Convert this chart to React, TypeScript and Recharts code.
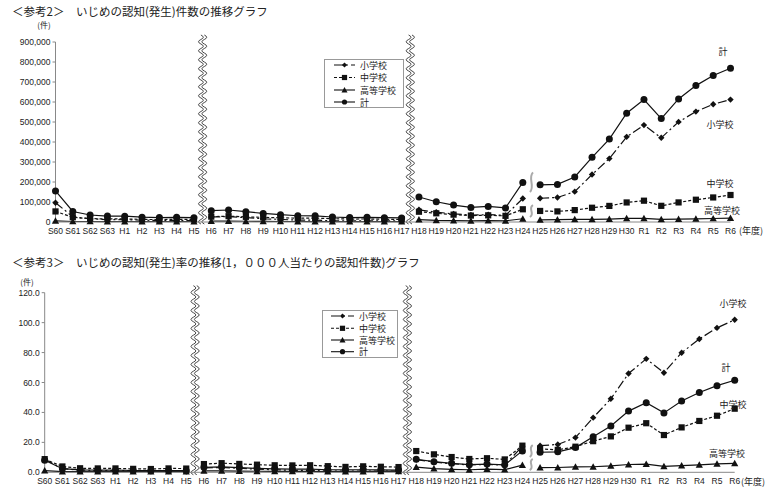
import React from 'react'
import { LineChart, Line, XAxis, YAxis, ReferenceArea } from 'recharts'

// 年度
const years = [
  'S60', 'S61', 'S62', 'S63',
  'H1', 'H2', 'H3', 'H4', 'H5', 'H6', 'H7', 'H8', 'H9', 'H10',
  'H11', 'H12', 'H13', 'H14', 'H15', 'H16', 'H17', 'H18', 'H19', 'H20',
  'H21', 'H22', 'H23', 'H24', 'H25', 'H26', 'H27', 'H28', 'H29', 'H30',
  'R1', 'R2', 'R3', 'R4', 'R5', 'R6',
]
// lines are broken where the survey definition changed
const segmentStarts = ['S60', 'H6', 'H18', 'H25']

// 認知（発生）件数
const countElem = [
  96457, 26306, 15727, 12122, 11350, 9035, 7718, 7300, 6390,
  25295, 26614, 21733, 16294, 12858, 9462, 9114, 6206, 5659, 6051, 5551, 5087,
  60897, 48896, 40807, 34766, 36909, 33124, 117384,
  118748, 122734, 151692, 237256, 317121, 425844, 484545, 420897, 500562, 551944, 588930, 612000,
]
const countJhs = [
  52891, 23690, 16796, 15452, 15215, 13121, 11922, 13632, 12817,
  26828, 29069, 25862, 23234, 20801, 19383, 19371, 16635, 14562, 15159, 13915, 12794,
  51310, 43505, 36795, 32111, 33323, 30749, 63634,
  55248, 52971, 59502, 71309, 80424, 97704, 106524, 80877, 97937, 111404, 122703, 135000,
]
const countHs = [
  5718, 2614, 2544, 2212, 2523, 2152, 2422, 2326, 2391,
  4253, 4184, 3771, 3103, 2576, 2391, 2327, 2119, 1906, 2070, 2121, 2191,
  12307, 8355, 6737, 5642, 7018, 6020, 16274,
  11039, 11404, 12664, 12874, 14789, 17709, 18352, 13126, 14157, 15568, 17611, 19500,
]
const countTotal = [
  155066, 52610, 35067, 29786, 29088, 24308, 22062, 23258, 21598,
  56601, 60096, 51544, 42790, 36396, 31359, 30918, 25037, 22205, 23351, 21671, 20143,
  124898, 101097, 84648, 72778, 77630, 70231, 198109,
  185803, 188072, 225132, 323143, 414378, 543933, 612496, 517163, 615351, 681948, 732568, 769022,
]

// 1,000人当たりの認知件数
const rateElem = [
  8.7, 2.4, 1.5, 1.2, 1.2, 1.0, 0.8, 0.8, 0.7,
  2.9, 3.2, 2.7, 2.1, 1.7, 1.3, 1.2, 0.9, 0.8, 0.8, 0.8, 0.7,
  8.5, 6.9, 5.7, 4.9, 5.3, 4.8, 17.4,
  17.8, 18.6, 23.2, 36.5, 49.1, 66.0, 75.8, 66.5, 79.9, 89.1, 96.5, 101.9,
]
const rateJhs = [
  8.8, 3.9, 2.7, 2.6, 2.6, 2.3, 2.2, 2.6, 2.5,
  5.5, 6.1, 5.6, 5.1, 4.7, 4.6, 4.7, 4.1, 3.6, 4.0, 3.7, 3.5,
  14.2, 12.0, 10.2, 8.9, 9.4, 8.6, 17.8,
  15.6, 15.0, 17.1, 20.8, 24.0, 29.8, 32.8, 24.9, 30.0, 34.3, 37.8, 42.5,
]
const rateHs = [
  1.1, 0.5, 0.5, 0.4, 0.5, 0.4, 0.4, 0.4, 0.5,
  0.9, 0.9, 0.8, 0.7, 0.6, 0.6, 0.6, 0.5, 0.5, 0.5, 0.6, 0.6,
  3.5, 2.5, 2.0, 1.7, 2.1, 1.8, 4.8,
  3.1, 3.2, 3.6, 3.7, 4.3, 5.2, 5.4, 4.0, 4.4, 4.9, 5.6, 6.0,
]
const rateTotal = [
  8.0, 2.4, 1.6, 1.4, 1.4, 1.2, 1.1, 1.2, 1.1,
  3.3, 3.6, 3.1, 2.6, 2.3, 2.1, 2.1, 1.7, 1.6, 1.7, 1.6, 1.5,
  8.7, 7.1, 6.0, 5.1, 5.5, 5.0, 14.3,
  13.4, 13.7, 16.5, 23.8, 30.9, 40.9, 46.5, 39.7, 47.7, 53.3, 57.9, 61.5,
]

const countTicks = [0, 100000, 200000, 300000, 400000, 500000, 600000, 700000, 800000, 900000]
const rateTicks = [0, 20, 40, 60, 80, 100, 120]

type Marker = 'diamond' | 'square' | 'triangle' | 'circle'
const seriesDefs: { key: string; name: string; dash?: string; marker: Marker }[] = [
  { key: 'elem', name: '小学校', dash: '9 3 2 3', marker: 'diamond' },
  { key: 'jhs', name: '中学校', dash: '3 2', marker: 'square' },
  { key: 'hs', name: '高等学校', marker: 'triangle' },
  { key: 'total', name: '計', marker: 'circle' },
]

const INK = '#111'
const JP = "'Noto Sans CJK JP', 'Noto Sans', sans-serif"
const NUM = "'Liberation Sans', Arial, sans-serif"

const segStartIdx = segmentStarts.map((s) => years.indexOf(s))
const segOf = (i: number) => segStartIdx.filter((s) => s <= i).length - 1

function buildRows(values: Record<string, number[]>) {
  return years.map((year, i) => {
    const row: Record<string, any> = { year }
    const seg = segOf(i)
    Object.keys(values).forEach((k) => {
      row[`${k}_${seg}`] = values[k][i]
    })
    return row
  })
}

const countRows = buildRows({ elem: countElem, jhs: countJhs, hs: countHs, total: countTotal })
const rateRows = buildRows({ elem: rateElem, jhs: rateJhs, hs: rateHs, total: rateTotal })

function markerShape(marker: Marker, cx: number, cy: number, s: number, key?: string) {
  switch (marker) {
    case 'diamond':
      return <path key={key} d={`M${cx},${cy - s} L${cx + s},${cy} L${cx},${cy + s} L${cx - s},${cy} Z`} fill={INK} />
    case 'square':
      return <rect key={key} x={cx - s} y={cy - s} width={s * 2} height={s * 2} fill={INK} />
    case 'triangle':
      return <path key={key} d={`M${cx},${cy - s} L${cx + s},${cy + s * 0.8} L${cx - s},${cy + s * 0.8} Z`} fill={INK} />
    default:
      return <circle key={key} cx={cx} cy={cy} r={s} fill={INK} />
  }
}

const markerSize: Record<Marker, number> = { diamond: 3.2, square: 3.1, triangle: 3.6, circle: 3.5 }

const makeDot = (marker: Marker) => (props: any) => {
  const { cx, cy, value, index, dataKey } = props
  if (cx == null || cy == null || value == null) return <g key={`e-${dataKey}-${index}`} />
  return markerShape(marker, cx, cy, markerSize[marker], `d-${dataKey}-${index}`)
}

function waveD(x: number, y0: number, y1: number, amp = 2.4, period = 9) {
  let d = `M${x},${y0}`
  let y = y0
  let k = 0
  while (y < y1) {
    const dir = k % 2 === 0 ? 1 : -1
    d += ` q${dir * amp * 2},${period / 4} 0,${period / 2}`
    y += period / 2
    k++
  }
  return d
}

const BreakShape = (props: any) => {
  const { x, y, width, height } = props
  const mx = x + width / 2
  const top = y - 7
  return (
    <g>
      <path d={waveD(mx - 1.7, top, y + height)} stroke="#333" fill="none" strokeWidth={0.9} />
      <path d={waveD(mx + 1.7, top, y + height)} stroke="#333" fill="none" strokeWidth={0.9} />
    </g>
  )
}

const SquiggleShape = (props: any) => {
  const { x, y, width, height } = props
  const mx = x + width / 2
  return (
    <path
      d={`M${mx + 1.5},${y} C${mx - 4},${y + height * 0.3} ${mx + 4},${y + height * 0.7} ${mx - 1.5},${y + height}`}
      stroke="#aaa"
      strokeWidth={2}
      fill="none"
    />
  )
}

function Legend({ left, top, width, height, rows, lineX }: any) {
  return (
    <div
      style={{
        position: 'absolute', left, top, width, height, border: '1px solid #999',
        background: '#fff', boxSizing: 'border-box',
      }}
    >
      <svg width={width} height={height} style={{ position: 'absolute', left: -1, top: -1 }}>
        {seriesDefs.map((s, i) => {
          const y = rows[i]
          const mid = (lineX[0] + lineX[1]) / 2
          return (
            <g key={s.key}>
              <line x1={lineX[0]} x2={lineX[1]} y1={y} y2={y} stroke={INK} strokeWidth={1.1} strokeDasharray={s.dash} />
              {markerShape(s.marker, mid, y, s.marker === 'triangle' ? 3 : 2.6)}
              <text x={lineX[1] + 5} y={y} dominantBaseline="central" fontSize={9} fontFamily={JP} fill="#222">
                {s.name}
              </text>
            </g>
          )
        })}
      </svg>
    </div>
  )
}

function Panel(props: {
  top: number; height: number; rows: any[]; domain: [number, number]; ticks: number[]
  fmt: (v: number) => string; yWidth: number; right: number; plotTop: number; xHeight: number
  squiggles: [number, number][]
}) {
  const { top, height, rows, domain, ticks, fmt, yWidth, right, plotTop, xHeight, squiggles } = props
  return (
    <div style={{ position: 'absolute', left: 0, top }}>
      <LineChart width={773} height={height} data={rows} margin={{ top: plotTop, right, left: 0, bottom: 0 }}>
        <XAxis
          dataKey="year"
          interval={0}
          height={xHeight}
          tickLine={false}
          tickSize={3}
          tickMargin={3}
          stroke="#888"
          tick={{ fill: '#222', fontSize: 8.5, fontFamily: NUM }}
        />
        <YAxis
          domain={domain}
          ticks={ticks}
          width={yWidth}
          tickSize={3}
          tickMargin={2}
          stroke="#888"
          tickFormatter={fmt}
          tick={{ fill: '#222', fontSize: 8.5, fontFamily: NUM }}
        />
        <ReferenceArea x1="H5" x2="H6" y1={domain[0]} y2={domain[1]} ifOverflow="visible" shape={BreakShape} />
        <ReferenceArea x1="H17" x2="H18" y1={domain[0]} y2={domain[1]} ifOverflow="visible" shape={BreakShape} />
        {squiggles.map(([a, b], i) => (
          <ReferenceArea key={i} x1="H24" x2="H25" y1={a} y2={b} ifOverflow="visible" shape={SquiggleShape} />
        ))}
        {seriesDefs.flatMap((s) =>
          segmentStarts.map((_, seg) => (
            <Line
              key={`${s.key}_${seg}`}
              dataKey={`${s.key}_${seg}`}
              stroke={INK}
              strokeWidth={1.2}
              strokeDasharray={s.dash}
              dot={makeDot(s.marker)}
              activeDot={false}
              isAnimationActive={false}
            />
          ))
        )}
      </LineChart>
    </div>
  )
}

const labelStyle = (x: number, y: number, size = 9): React.CSSProperties => ({
  position: 'absolute', left: x, top: y, transform: 'translate(-50%, -50%)',
  fontSize: size, lineHeight: 1, fontFamily: JP, color: '#222', whiteSpace: 'nowrap',
})

const titleStyle = (top: number): React.CSSProperties => ({
  position: 'absolute', left: 12, top, fontSize: 11.5, lineHeight: 1, fontFamily: JP,
  color: '#222', whiteSpace: 'nowrap',
})

export default function App() {
  return (
    <div style={{ position: 'absolute', left: 0, top: 0, width: 773, height: 497, background: '#fff', overflow: 'hidden' }}>
      <div style={titleStyle(6)}>
        ＜参考2＞　いじめの認知(発生)件数の推移グラフ
      </div>
      <div style={titleStyle(257)}>
        ＜参考3＞　いじめの認知(発生)率の推移(1，０００人当たりの認知件数)グラフ
      </div>

      <Panel
        top={0} height={250} rows={countRows} domain={[0, 900000]} ticks={countTicks}
        fmt={(v) => v.toLocaleString('en-US')} yWidth={55.5} right={42.5} plotTop={42} xHeight={28}
        squiggles={[[150000, 248000], [25000, 84000]]}
      />
      <Panel
        top={250} height={247} rows={rateRows} domain={[0, 120]} ticks={rateTicks}
        fmt={(v) => v.toFixed(1)} yWidth={44.7} right={38.3} plotTop={42.7} xHeight={24.7}
        squiggles={[[10.2, 18.2], [1.5, 8.9]]}
      />

      <Legend left={324} top={59} width={80} height={49} rows={[6, 18.5, 31, 43]} lineX={[10, 31]} />
      <Legend left={322} top={310} width={76} height={48} rows={[6, 18.3, 30, 41.7]} lineX={[9, 32]} />

      <span style={labelStyle(44, 25, 8)}>(件)</span>
      <span style={labelStyle(27, 282, 8)}>(件)</span>
      <span style={labelStyle(751, 230)}>(年度)</span>
      <span style={labelStyle(753, 481)}>(年度)</span>

      <span style={labelStyle(723, 51)}>計</span>
      <span style={labelStyle(720, 124)}>小学校</span>
      <span style={labelStyle(720, 183)}>中学校</span>
      <span style={labelStyle(722, 210)}>高等学校</span>

      <span style={labelStyle(733, 303)}>小学校</span>
      <span style={labelStyle(726, 367)}>計</span>
      <span style={labelStyle(733, 404)}>中学校</span>
      <span style={labelStyle(727, 453)}>高等学校</span>
    </div>
  )
}
